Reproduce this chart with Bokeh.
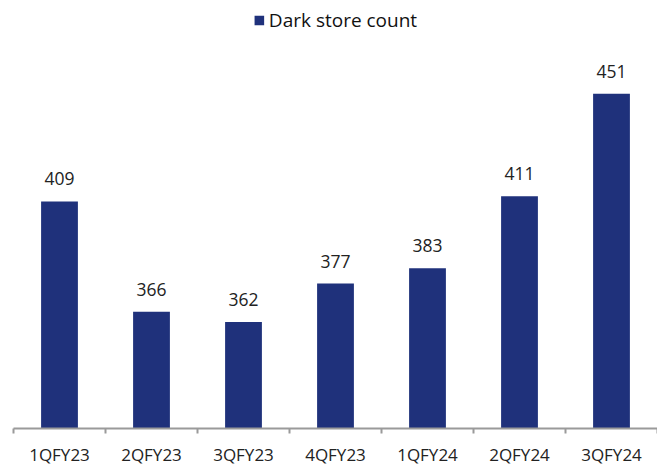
from bokeh.plotting import figure
from bokeh.models import ColumnDataSource, FixedTicker, Range1d, Legend, LegendItem
from bokeh.core.properties import value
from bokeh.embed import file_html
from bokeh.resources import INLINE

categories = ["1QFY23", "2QFY23", "3QFY23", "4QFY23", "1QFY24", "2QFY24", "3QFY24"]
dark_store_count = [409, 366, 362, 377, 383, 411, 451]
series_name = "Dark store count"

BAR = "#1f317b"
FONT = "Open Sans"
Y0 = 320.5

xs = [i + 0.5 for i in range(len(categories))]
src = ColumnDataSource(dict(x=xs, top=dark_store_count,
                            label=[str(v) for v in dark_store_count]))

p = figure(width=657, height=468, output_backend="svg", toolbar_location=None,
           x_range=Range1d(0, len(categories)), y_range=Range1d(Y0, 487.3),
           min_border_left=13, min_border_right=0, min_border_top=0, min_border_bottom=36)
p.outline_line_color = None
p.background_fill_color = "white"
p.border_fill_color = "white"
p.xgrid.visible = False
p.ygrid.visible = False
p.yaxis.visible = False

r = p.vbar(x="x", top="top", bottom=Y0, width=0.4, source=src,
           fill_color=BAR, line_color=None)

p.text(x="x", y="top", text="label", source=src, text_align="center",
       text_baseline="bottom", y_offset=-16, text_font=value(FONT),
       text_font_size="17.5px", text_color="#222222")

ax = p.xaxis[0]
ax.ticker = FixedTicker(ticks=xs, minor_ticks=list(range(len(categories) + 1)))
ax.major_label_overrides = {x: c for x, c in zip(xs, categories)}
ax.major_tick_line_color = None
ax.minor_tick_out = 5
ax.minor_tick_in = 0
ax.minor_tick_line_color = "#9a9a9a"
ax.minor_tick_line_width = 2
ax.axis_line_color = "#9a9a9a"
ax.axis_line_width = 2
ax.major_label_text_font = FONT
ax.major_label_text_font_size = "17px"
ax.major_label_text_color = "#222222"
ax.major_label_standoff = 8

legend = Legend(items=[LegendItem(label=series_name, renderers=[r])],
                location="top_center", orientation="horizontal",
                label_text_font=FONT, label_text_font_size="19px",
                label_text_color="#111111", glyph_width=12, glyph_height=12,
                label_standoff=4, border_line_color=None, background_fill_alpha=0,
                padding=4, margin=7)
p.add_layout(legend)

open("out.html", "w").write(file_html(p, INLINE))
